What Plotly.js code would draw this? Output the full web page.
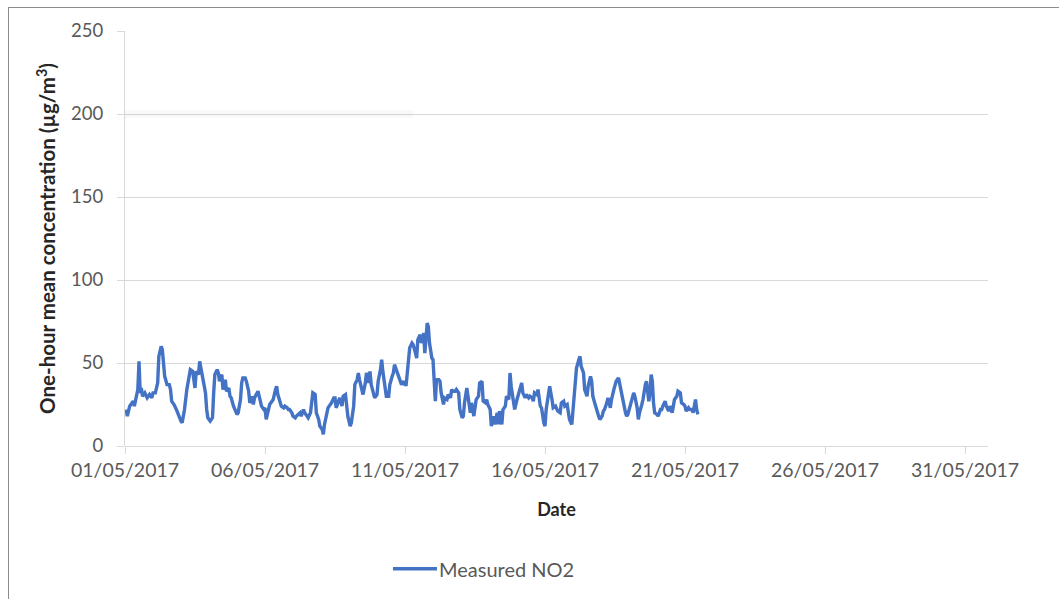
<!DOCTYPE html>
<html>
<head>
<meta charset="utf-8">
<script src="https://cdn.plot.ly/plotly-3.0.1.min.js"></script>
<style>
  html, body { margin: 0; padding: 0; background: #fff; }
  #wrap { position: relative; width: 1059px; height: 599px; overflow: hidden; }
  #chart { position: absolute; left: 0; top: 0; width: 1059px; height: 599px; }
  #frame { position: absolute; left: 8px; top: 7px; width: 1200px; height: 800px;
           border-left: 1px solid #8c8c8c; border-top: 1px solid #8c8c8c; pointer-events: none; }
</style>
</head>
<body>
<div id="wrap">
  <div id="chart"></div>
  <div id="frame"></div>
</div>
<script>
// Hour offsets from 01/05/2017 00:00 and measured NO2 (µg/m³)
const hours = [
  1,2,4,7,8,9,11,12,13,14,15,17,19,21,23,24,26,28,29,31,32,34,36,38,39,40,42,44,46,48,49,51,53,55,56,58,60,
  61,63,64,66,67,69,70,71,73,75,76,77,79,80,81,83,84,86,87,89,90,91,93,94,96,97,99,100,101,103,104,106,107,109,110,111,113,114,116,117,119,120,
  121,123,124,126,127,129,130,131,133,134,136,137,139,140,141,143,144,146,147,149,150,151,153,154,156,157,159,160,161,163,164,166,167,169,170,171,173,174,176,177,179,180,
  181,183,184,186,187,189,190,191,193,194,196,197,199,200,201,203,204,206,207,209,210,211,213,214,216,217,219,220,221,223,224,226,227,229,230,231,233,234,236,237,239,240,
  241,243,244,246,247,249,250,251,253,254,256,257,259,260,261,263,264,266,267,269,270,271,273,274,276,277,279,280,281,283,284,286,287,289,290,291,293,294,296,297,299,300,
  301,303,304,306,307,309,310,311,313,314,316,317,319,320,321,323,324,326,327,329,330,331,333,334,336,337,339,340,341,343,344,346,347,349,350,351,353,354,356,357,359,360,
  361,363,364,366,367,369,370,371,373,374,376,377,379,380,381,383,384,386,387,389,390,391,393,394,396,397,399,400,401,403,404,406,407,409,410,411,413,414,416,417,419,420,
  421,423,424,426,427,429,430,431,433,434,436,437,439,440,441,443,444,446,447,449,450,451,452,453,454,456,457,459,460,461,463,464,466,467,469,470,471,473,474,476,477,479,480,481,483,484,486,487,489,490,491
];
const no2 = [
  22,18,24,27,24,28,34,51,32,35,30,32,29,31,29,32,32,38,54,60,58,42,37,37,34,27,25,22,18,15,14,22,34,43,46,45,35,
  45,43,51,43,41,32,22,17,15,17,32,43,46,44,39,43,34,40,33,35,30,29,24,22,19,20,28,38,41,41,39,33,26,30,25,29,32,33,27,24,22,23,
  16,21,25,27,28,34,36,31,27,24,23,24,23,22,22,20,18,17,18,19,20,18,22,20,18,17,20,25,32,31,20,16,12,10,7,13,20,23,25,26,29,29,
  23,27,29,24,30,31,22,18,12,14,24,37,40,44,40,33,31,38,44,38,45,37,30,29,31,39,46,52,45,36,30,30,37,42,44,49,45,42,38,37,39,37,
  37,50,59,62,61,56,53,64,67,62,68,56,74,72,62,53,52,27,40,40,39,32,25,29,28,31,29,34,33,33,34,32,22,17,18,26,35,30,20,26,18,23,
  28,30,38,39,27,26,28,25,22,12,18,13,20,13,21,13,22,24,30,28,44,36,25,22,28,31,36,38,32,29,31,29,30,29,27,32,31,34,24,23,14,12,
  22,32,36,28,23,24,22,21,20,26,27,24,25,20,16,13,22,44,47,52,54,48,44,34,30,36,42,39,30,25,22,18,16,18,21,22,26,29,23,28,34,36,
  39,41,38,32,27,20,18,19,24,28,32,30,23,16,20,25,28,37,39,27,32,43,39,26,20,19,18,22,22,24,27,24,21,24,20,24,28,30,33,32,26,25,24,21,23,22,22,20,28,22,19
];
// Faint band along the 200 line in the reference
const bandHours = [0, 247];
const bandValues = [200, 200];

const seriesName = 'Measured NO2';
const yTickVals = [0, 50, 100, 150, 200, 250];

function toStamp(h) {
  const d = new Date(Date.UTC(2017, 4, 1) + h * 3600000);
  const p = n => String(n).padStart(2, '0');
  return d.getUTCFullYear() + '-' + p(d.getUTCMonth() + 1) + '-' + p(d.getUTCDate()) + ' ' +
         p(d.getUTCHours()) + ':' + p(d.getUTCMinutes());
}

const FONT = 'Lato, "Open Sans", sans-serif';
const GRID = '#d9d9d9';
const LINE_COLOR = '#4472C4';

const traces = [
  {
    x: bandHours.map(toStamp), y: bandValues, mode: 'lines', showlegend: false, hoverinfo: 'skip',
    line: { color: 'rgba(0,0,0,0.022)', width: 8 }
  },
  {
    x: hours.map(toStamp), y: no2, mode: 'lines', name: seriesName, showlegend: false,
    line: { color: LINE_COLOR, width: 3.4 }
  },
  {
    // legend entry only; its sample line is drawn as a longer shape below
    x: [null], y: [null], mode: 'lines', name: seriesName, hoverinfo: 'skip',
    line: { color: 'rgba(0,0,0,0)', width: 3.4 }
  }
];

const layout = {
  width: 1059, height: 599,
  margin: { l: 125, r: 71, t: 31, b: 152 },
  paper_bgcolor: '#ffffff', plot_bgcolor: '#ffffff',
  font: { family: FONT, size: 18, color: '#595959' },
  showlegend: true,
  legend: {
    orientation: 'h', x: 0.3175, xanchor: 'left', y: -0.2933, yanchor: 'middle',
    font: { family: FONT, size: 20, color: '#595959' }, bgcolor: 'rgba(0,0,0,0)'
  },
  shapes: [
    { type: 'line', xref: 'paper', yref: 'paper', x0: 0.3105, x1: 0.3615, y0: -0.2957, y1: -0.2957,
      line: { color: LINE_COLOR, width: 3.4 } }
  ],
  xaxis: {
    type: 'date',
    range: ['2017-05-01 00:00', '2017-05-31 19:43'],
    tick0: '2017-05-01', dtick: 5 * 86400000,
    tickformat: '%d/%m/%Y',
    showgrid: false, zeroline: false,
    showline: false,
    ticks: 'outside', ticklen: 7, tickcolor: GRID, tickwidth: 1,
    tickfont: { family: FONT, size: 19.5, color: '#595959' },
    title: { text: '<b>Date</b>', font: { family: FONT, size: 18, color: '#262626' }, standoff: 22 }
  },
  yaxis: {
    range: [0, 250], tickvals: yTickVals,
    showgrid: true, gridcolor: GRID, gridwidth: 1,
    zeroline: true, zerolinecolor: GRID, zerolinewidth: 1,
    showline: true, linecolor: GRID, linewidth: 1,
    ticks: 'outside', ticklen: 7, tickcolor: GRID, tickwidth: 1,
    ticklabelstandoff: 10,
    tickfont: { family: FONT, size: 18.5, color: '#595959' },
    title: { text: '<b>One-hour mean concentration (µg/m<sup>3</sup>)</b>', font: { family: FONT, size: 20.5, color: '#262626' }, standoff: 9 }
  }
};

Plotly.newPlot('chart', traces, layout, { displayModeBar: false, staticPlot: true });
</script>
</body>
</html>
